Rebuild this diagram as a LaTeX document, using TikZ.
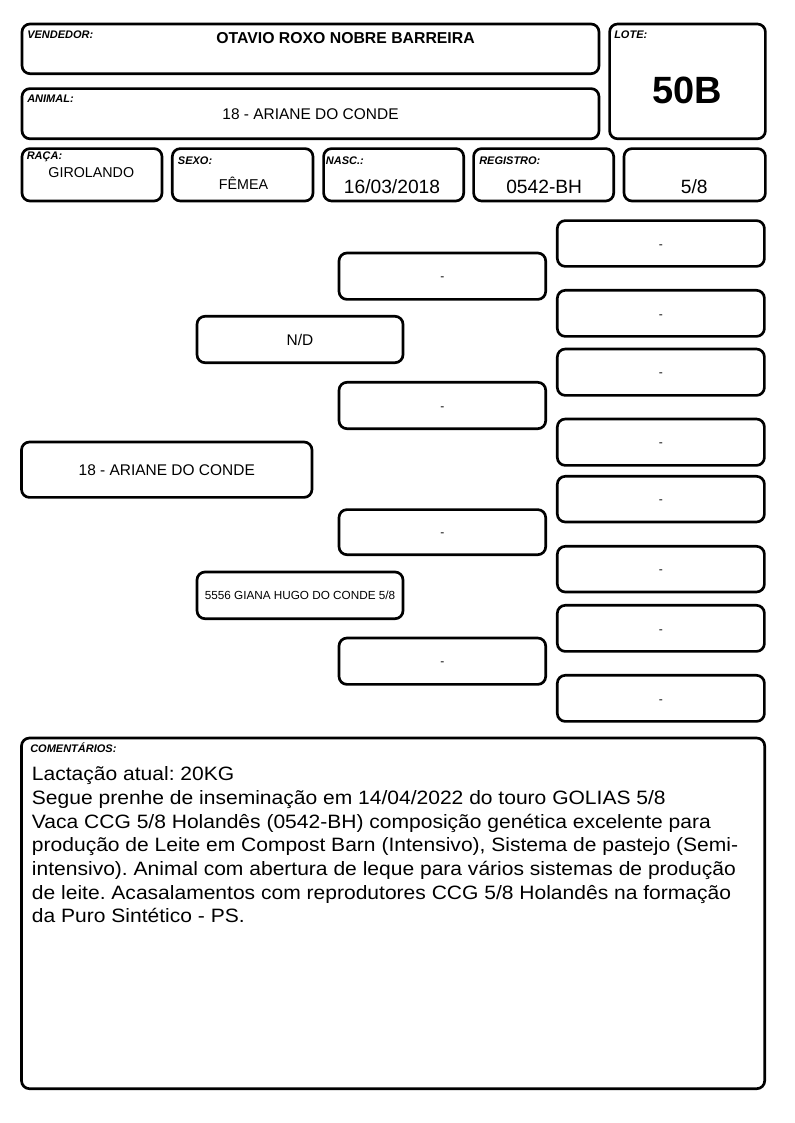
\documentclass[tikz,border=0pt]{standalone}
\usepackage{fontspec}
\setmainfont{Liberation Sans}
\newfontfamily\cmtfont[FakeStretch=1.088]{Liberation Sans}
\newcommand\mkbox[6][]{\node[box,#1,minimum width={(#5-#3)*0.75pt},minimum height={(#6-#4)*0.75pt}] (#2) at ({(#3+#5)/2},{(#4+#6)/2})}
\frenchspacing
\begin{document}
\begin{tikzpicture}[x=0.75pt,y=-0.75pt,
  box/.style={draw=black, line width=2pt, rounded corners=6pt, inner sep=0pt, outer sep=0pt, fill=white},
  lbl/.style={font=\fontsize{8.25}{10}\selectfont\bfseries\itshape, anchor=base west, inner sep=0pt},
  val/.style={anchor=base, inner sep=0pt},
  big/.style={font=\fontsize{14.4}{17}\selectfont},
  mid/.style={font=\fontsize{10.7}{13}\selectfont},
  ped/.style={font=\fontsize{11.6}{14}\selectfont},
  nil/.style={font=\fontsize{9}{11}\selectfont, text height=7pt, text depth=0pt},
  cmt/.style={font=\cmtfont\fontsize{14.5}{17.75}\selectfont, anchor=base west, inner sep=0pt}]
\fill[white] (0,0) rectangle (794,1123);
\useasboundingbox (0,0) rectangle (794,1123);
% header boxes
\mkbox{vend}{22}{24}{599}{73.7}{};
\mkbox{lote}{609.6}{24}{765.4}{138.8}{};
\mkbox{anim}{22}{88.6}{599}{138.8}{};
\mkbox{raca}{22}{148.6}{162}{201}{};
\mkbox{sexo}{172.3}{148.6}{313}{201}{};
\mkbox{nasc}{323.6}{148.6}{463.7}{201}{};
\mkbox{regi}{473.6}{148.6}{613.7}{201}{};
\mkbox{frac}{624}{148.6}{765.4}{201}{};
% header texts
\node[lbl] (lv) at (27,39) {VENDEDOR:};
\node[val, font=\fontsize{11.85}{14}\selectfont\bfseries] (tv) at (345.5,43.3) {OTAVIO ROXO NOBRE BARREIRA};
\node[lbl] (la) at (27,103) {ANIMAL:};
\node[val, font=\fontsize{11.6}{14}\selectfont] (ta) at (310.5,119.3) {18 - ARIANE DO CONDE};
\node[lbl] (ll) at (614,39) {LOTE:};
\node[val, font=\fontsize{28.5}{34}\selectfont\bfseries] (tl) at (687.3,104) {50B};
\node[lbl] (lr) at (26.5,160) {RAÇA:};
\node[val, mid] (tr) at (91.3,178) {GIROLANDO};
\node[lbl] (ls) at (177.7,165) {SEXO:};
\node[val, mid] (ts) at (243.5,189.3) {FÊMEA};
\node[lbl] (ln) at (325.7,165) {NASC.:};
\node[val, big] (tn) at (392,193.3) {16/03/2018};
\node[lbl] (lg) at (479,165) {REGISTRO:};
\node[val, big] (tg) at (544.2,193.3) {0542-BH};
\node[val, big] (tf) at (694.2,193.3) {5/8};
% pedigree
\mkbox[ped]{p1}{21.5}{442}{312}{497.4}{18 - ARIANE DO CONDE};
\mkbox[ped]{p2a}{197}{316.3}{403}{362.7}{N/D};
\mkbox[font=\fontsize{8.8}{10}\selectfont]{p2b}{197}{572}{403}{618.7}{5556 GIANA HUGO DO CONDE 5/8};
\mkbox[nil]{p3a}{339}{253}{545.7}{299.4}{-};
\mkbox[nil]{p3b}{339}{382.3}{545.7}{428.7}{-};
\mkbox[nil]{p3c}{339}{509.6}{545.7}{554.7}{-};
\mkbox[nil]{p3d}{339}{638}{545.7}{684.4}{-};
\mkbox[nil]{p4a}{557.3}{220.6}{764.4}{266.4}{-};
\mkbox[nil]{p4b}{557.3}{290.3}{764.4}{336.4}{-};
\mkbox[nil]{p4c}{557.3}{349}{764.4}{395.4}{-};
\mkbox[nil]{p4d}{557.3}{419}{764.4}{465.4}{-};
\mkbox[nil]{p4e}{557.3}{476.3}{764.4}{522}{-};
\mkbox[nil]{p4f}{557.3}{546.3}{764.4}{592}{-};
\mkbox[nil]{p4g}{557.3}{605.3}{764.4}{651.4}{-};
\mkbox[nil]{p4h}{557.3}{675.3}{764.4}{721.4}{-};
% comments
\mkbox{cmts}{21.5}{738}{764.7}{1088.7}{};
\node[lbl] (lc) at (30,752.3) {COMENTÁRIOS:};
\node[cmt] (c1) at (31.7,780.7) {Lactação atual: 20KG};
\node[cmt] (c2) at (31.7,804.4) {Segue prenhe de inseminação em 14/04/2022 do touro GOLIAS 5/8};
\node[cmt] (c3) at (31.7,828.0) {Vaca CCG 5/8 Holandês (0542-BH) composição genética excelente para};
\node[cmt] (c4) at (31.7,851.7) {produção de Leite em Compost Barn (Intensivo), Sistema de pastejo (Semi-};
\node[cmt] (c5) at (31.7,875.4) {intensivo). Animal com abertura de leque para vários sistemas de produção};
\node[cmt] (c6) at (31.7,899.0) {de leite. Acasalamentos com reprodutores CCG 5/8 Holandês na formação};
\node[cmt] (c7) at (31.7,922.7) {da Puro Sintético - PS.};
\end{tikzpicture}
\end{document}
